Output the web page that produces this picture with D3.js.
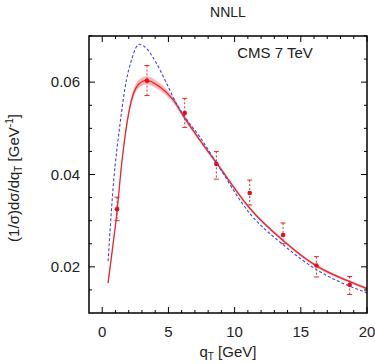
<!DOCTYPE html>
<html lang="en">
<head>
    <meta charset="UTF-8" />
    <title>NNLL qT spectrum</title>
    <script src="https://d3js.org/d3.v7.min.js"></script>
    <style>
        body { margin: 0; background: #fff; }
        text { font-family: "Liberation Sans", Arial, sans-serif; fill: #222; }
    </style>
</head>
<body>
    <script>
        // CMS 7 TeV data points
        var dataX = [1.12, 3.38, 6.23, 8.62, 11.14, 13.66, 16.18, 18.69];
        var dataY = [0.0325, 0.0603, 0.0533, 0.0423, 0.0360, 0.0269, 0.0203, 0.0161];
        var dataHi = [0.0351, 0.0636, 0.0565, 0.0450, 0.0388, 0.0295, 0.0222, 0.0179];
        var dataLo = [0.0300, 0.0571, 0.0502, 0.0390, 0.0334, 0.0250, 0.0178, 0.0140];

        // NNLL (red, with band)
        var redX = [0.44, 0.8, 1.15, 1.4, 1.7, 2.08, 2.70, 3.34, 4.34, 5.35, 6.23, 7.36, 8.63, 11.14, 13.66, 16.18, 18.69, 20];
        var redY = [0.0165, 0.0245, 0.0328, 0.0405, 0.0478, 0.0545, 0.0594, 0.0604, 0.0590, 0.0562, 0.0522, 0.0475, 0.0425, 0.0327, 0.0257, 0.0202, 0.0168, 0.0153];
        var redBand = [0.0003, 0.0004, 0.0005, 0.0006, 0.0007, 0.0008, 0.0009, 0.0009, 0.0008, 0.0006, 0.0005, 0.0004, 0.0004, 0.0003, 0.0003, 0.0003, 0.0003, 0.0003];

        // blue dashed curve
        var blueX = [0.44, 0.87, 1.32, 1.83, 2.21, 2.55, 2.8, 3.34, 4.09, 4.85, 5.60, 6.23, 7.36, 8.63, 11.14, 13.66, 16.18, 18.69, 20];
        var blueY = [0.0212, 0.0388, 0.0504, 0.0605, 0.0648, 0.0675, 0.0682, 0.0673, 0.0641, 0.0598, 0.0554, 0.0525, 0.0482, 0.0425, 0.0316, 0.0248, 0.0194, 0.0158, 0.0144];

        var xTicks = [0, 5, 10, 15, 20];
        var yTicks = [0.02, 0.04, 0.06];

        var w = 375, h = 364;
        var pL = 89, pR = 367, pT = 36, pB = 313;

        var x = d3.scaleLinear().domain([-1, 20]).range([pL, pR]);
        var y = d3.scaleLinear().domain([0.01, 0.07]).range([pB, pT]);

        var svg = d3.select("body").append("svg")
            .attr("width", w)
            .attr("height", h);

        // band
        var band = d3.area()
            .x(function (d) { return x(d[0]); })
            .y0(function (d) { return y(d[1] - d[2]); })
            .y1(function (d) { return y(d[1] + d[2]); })
            .curve(d3.curveMonotoneX);
        var redPts = redX.map(function (v, i) { return [v, redY[i], redBand[i]]; });
        svg.append("path")
            .attr("d", band(redPts))
            .attr("fill", "#f59a9a")
            .attr("opacity", 0.7);

        var line = d3.line()
            .x(function (d) { return x(d[0]); })
            .y(function (d) { return y(d[1]); })
            .curve(d3.curveMonotoneX);

        svg.append("path")
            .attr("d", line(redPts))
            .attr("fill", "none")
            .attr("stroke", "#e8262e")
            .attr("stroke-width", 1.3);

        var bluePts = blueX.map(function (v, i) { return [v, blueY[i]]; });
        svg.append("path")
            .attr("d", line(bluePts))
            .attr("fill", "none")
            .attr("stroke", "#4646d8")
            .attr("stroke-width", 1.1)
            .attr("stroke-dasharray", "3,2");

        // data with error bars
        var pts = dataX.map(function (v, i) { return { x: v, y: dataY[i], hi: dataHi[i], lo: dataLo[i] }; });
        var g = svg.append("g").attr("stroke", "#e8262e").attr("stroke-width", 1).attr("fill", "none");
        g.selectAll("line.bar").data(pts).enter().append("line")
            .attr("x1", function (d) { return x(d.x); })
            .attr("x2", function (d) { return x(d.x); })
            .attr("y1", function (d) { return y(d.hi); })
            .attr("y2", function (d) { return y(d.lo); })
            .attr("stroke-dasharray", "2,2");
        g.selectAll("line.capHi").data(pts).enter().append("line")
            .attr("x1", function (d) { return x(d.x) - 2.5; })
            .attr("x2", function (d) { return x(d.x) + 2.5; })
            .attr("y1", function (d) { return y(d.hi); })
            .attr("y2", function (d) { return y(d.hi); });
        g.selectAll("line.capLo").data(pts).enter().append("line")
            .attr("x1", function (d) { return x(d.x) - 2.5; })
            .attr("x2", function (d) { return x(d.x) + 2.5; })
            .attr("y1", function (d) { return y(d.lo); })
            .attr("y2", function (d) { return y(d.lo); });
        svg.selectAll("circle").data(pts).enter().append("circle")
            .attr("cx", function (d) { return x(d.x); })
            .attr("cy", function (d) { return y(d.y); })
            .attr("r", 2.3)
            .attr("fill", "#e0101c");

        // frame and ticks
        svg.append("rect")
            .attr("x", pL).attr("y", pT)
            .attr("width", pR - pL).attr("height", pB - pT)
            .attr("fill", "none").attr("stroke", "#000").attr("stroke-width", 1.5);

        var tk = svg.append("g").attr("stroke", "#000").attr("stroke-width", 1);
        d3.range(0, 21, 1).forEach(function (v) {
            var len = (v % 5 === 0) ? 6 : 3;
            tk.append("line").attr("x1", x(v)).attr("x2", x(v)).attr("y1", pB).attr("y2", pB - len);
            tk.append("line").attr("x1", x(v)).attr("x2", x(v)).attr("y1", pT).attr("y2", pT + len);
        });
        d3.range(3, 15, 1).forEach(function (k) {
            var v = k * 0.005;
            var len = (k % 4 === 0) ? 6 : 3;
            tk.append("line").attr("x1", pL).attr("x2", pL + len).attr("y1", y(v)).attr("y2", y(v));
            tk.append("line").attr("x1", pR).attr("x2", pR - len).attr("y1", y(v)).attr("y2", y(v));
        });

        svg.selectAll("text.xt").data(xTicks).enter().append("text")
            .attr("x", function (d) { return x(d); })
            .attr("y", 337)
            .attr("text-anchor", "middle")
            .attr("font-size", "15px")
            .text(function (d) { return d; });

        svg.selectAll("text.yt").data(yTicks).enter().append("text")
            .attr("x", 80)
            .attr("y", function (d) { return y(d) + 5; })
            .attr("text-anchor", "end")
            .attr("font-size", "15px")
            .text(function (d) { return d.toFixed(2); });

        svg.append("text")
            .attr("x", 228).attr("y", 17)
            .attr("text-anchor", "middle")
            .attr("font-size", "14px")
            .text("NNLL");

        svg.append("text")
            .attr("x", 275).attr("y", 58)
            .attr("text-anchor", "middle")
            .attr("font-size", "15px")
            .text("CMS 7 TeV");

        var xl = svg.append("text")
            .attr("x", 228).attr("y", 357)
            .attr("text-anchor", "middle")
            .attr("font-size", "15px");
        xl.append("tspan").text("q");
        xl.append("tspan").attr("font-size", "10px").attr("dy", 3).text("T");
        xl.append("tspan").attr("dy", -3).text(" [GeV]");

        var yl = svg.append("text")
            .attr("transform", "translate(19,178) rotate(-90)")
            .attr("text-anchor", "middle")
            .attr("font-size", "15px");
        yl.append("tspan").text("(1/σ)dσ/dq");
        yl.append("tspan").attr("font-size", "10px").attr("dy", 3).text("T");
        yl.append("tspan").attr("dy", -3).text(" [GeV");
        yl.append("tspan").attr("font-size", "10px").attr("dy", -6).text("-1");
        yl.append("tspan").attr("dy", 6).text("]");
    </script>
</body>
</html>
